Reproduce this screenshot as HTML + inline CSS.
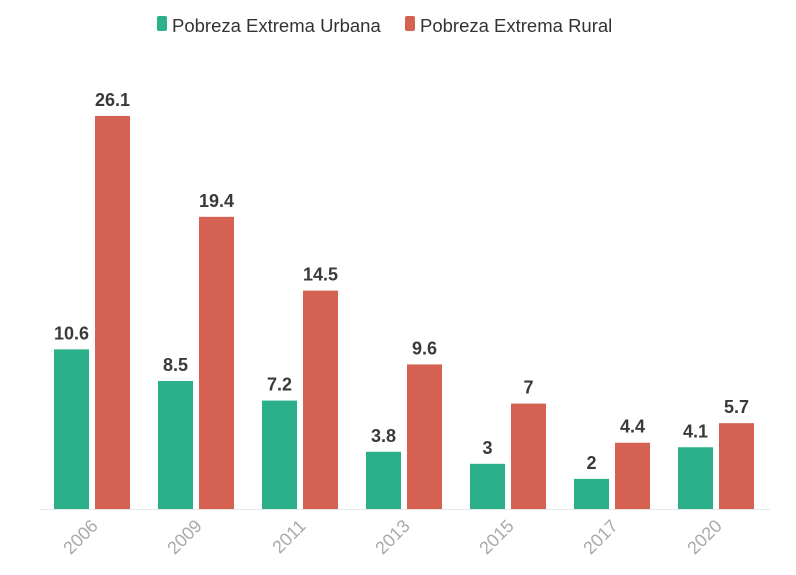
<!DOCTYPE html>
<html><head><meta charset="utf-8"><style>
body{margin:0;background:#fff;}
svg{display:block;font-family:"Liberation Sans",sans-serif;}
</style></head><body>
<svg id="chart" width="796" height="575">
<g>
<g>
<rect x="157" y="16" width="10" height="15" rx="2" fill="#2bb08a"/>
<text x="172" y="32" font-size="18.5" fill="#333">Pobreza Extrema Urbana</text>
</g>
<g>
<rect x="405" y="16" width="10" height="15" rx="2" fill="#d46151"/>
<text x="420" y="32" font-size="18.5" fill="#333">Pobreza Extrema Rural</text>
</g>
</g>
<line x1="40" y1="509.5" x2="770" y2="509.5" stroke="#e6e6e6" stroke-width="1"/>
<g id="bars"></g>
</svg>
<script>
const categories=["2006","2009","2011","2013","2015","2017","2020"];
const urbana=[10.6,8.5,7.2,3.8,3,2,4.1];
const rural=[26.1,19.4,14.5,9.6,7,4.4,5.7];
const NS="http://www.w3.org/2000/svg";
const g=document.getElementById('bars');
const base=509, scale=15.06, x0=92, step=104, bw=35, gap=6;
const y=v=>base-v*scale;
const xc=i=>x0+i*step;
function mk(tag,attrs){const e=document.createElementNS(NS,tag);for(const k in attrs)e.setAttribute(k,attrs[k]);g.appendChild(e);return e;}
categories.forEach((c,i)=>{
  [[urbana,"#2bb08a",-1,"urbana"],[rural,"#d46151",1,"rural"]].forEach(([arr,col,s,nm])=>{
    const v=arr[i];
    const x=s<0?xc(i)-gap/2-bw:xc(i)+gap/2;
    const r=mk('rect',{x:x,y:y(v),width:bw,height:v*scale,fill:col});
    
    
    const t=mk('text',{x:x+bw/2,y:y(v)-10,'text-anchor':'middle','font-size':18,'font-weight':'bold',fill:'#3a3a3a'});
    t.textContent=String(v);
    
    
  });
  const lx=xc(i)+7, ly=527;
  const t=mk('text',{x:lx,y:ly,'text-anchor':'end','font-size':18,fill:'#aaa',transform:`rotate(-45 ${lx} ${ly})`});
  t.textContent=c;
  
  
});
</script>
</body></html>
